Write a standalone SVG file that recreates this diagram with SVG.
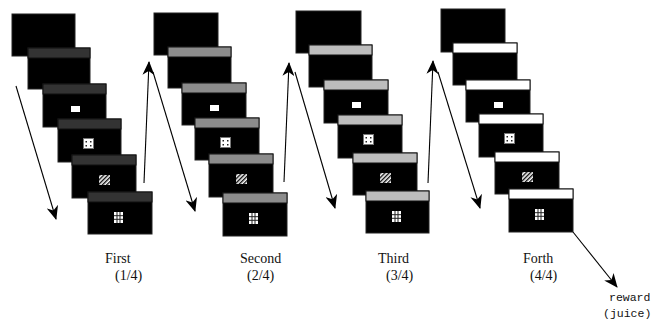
<svg xmlns="http://www.w3.org/2000/svg" width="665" height="320" viewBox="0 0 665 320">
  <defs>
    <style>
      .scr{fill:#000;stroke:#222;stroke-width:1}
      .bar{stroke:#111;stroke-width:1}
      .b1{fill:#333}
      .b2{fill:#8c8c8c}
      .b3{fill:#bdbdbd}
      .b4{fill:#fff}
      .arr{fill:none;stroke:#000;stroke-width:1.1;marker-end:url(#head)}
      .lbl{font-family:"Liberation Serif","Times New Roman",serif;font-size:14px;fill:#111}
      .mono{font-family:"Liberation Mono","DejaVu Sans Mono",monospace;font-size:11.5px;fill:#111}
    </style>
    <marker id="head" viewBox="0 0 14 12" refX="13" refY="6" markerWidth="14" markerHeight="12" markerUnits="userSpaceOnUse" orient="auto">
      <path d="M0,0 L14,6 L0,12 L4,6 z" fill="#000"/>
    </marker>
    <pattern id="hatch" width="3" height="3" patternUnits="userSpaceOnUse" patternTransform="rotate(45)">
      <rect width="3" height="3" fill="#fff"/>
      <rect width="1.4" height="3" fill="#111"/>
    </pattern>
    <!-- stimulus icons, placed relative to a screen's top-left corner -->
    <g id="cue">
      <rect x="28" y="22" width="9" height="6" fill="#fff"/>
    </g>
    <g id="dots">
      <rect x="25.5" y="19.5" width="10" height="10" fill="#fff" stroke="#777" stroke-width="1"/>
      <rect x="27.5" y="22" width="1.5" height="1.5" fill="#222"/>
      <rect x="32" y="22" width="1.5" height="1.5" fill="#222"/>
      <rect x="27.5" y="26" width="1.5" height="1.5" fill="#222"/>
      <rect x="32" y="26" width="1.5" height="1.5" fill="#222"/>
    </g>
    <g id="stripes">
      <rect x="27" y="20" width="11" height="10" fill="url(#hatch)"/>
    </g>
    <g id="grid">
      <rect x="26" y="20" width="9" height="11" fill="#fff"/>
      <path d="M29,20 V31 M32,20 V31 M26,23.7 H35 M26,27.3 H35" stroke="#222" stroke-width="1"/>
    </g>
  </defs>
  <rect width="665" height="320" fill="#fff"/>

  <!-- trial 1: dark header bars -->
  <g id="trial1">
    <g id="t1s0"><rect class="scr" x="12" y="14" width="63" height="42"/></g>
    <g id="t1s1"><rect class="scr" x="28" y="48" width="62" height="41"/><rect class="bar b1" x="28" y="48" width="62" height="10"/></g>
    <g id="t1s2" transform="translate(43,84)"><rect class="scr" width="63" height="43"/><rect class="bar b1" width="63" height="10"/><use href="#cue"/></g>
    <g id="t1s3" transform="translate(58,119)"><rect class="scr" width="63" height="43"/><rect class="bar b1" width="63" height="10"/><use href="#dots"/></g>
    <g id="t1s4" transform="translate(72,155)"><rect class="scr" width="64" height="43"/><rect class="bar b1" width="64" height="10"/><use href="#stripes"/></g>
    <g id="t1s5" transform="translate(88,192)"><rect class="scr" width="64" height="42"/><rect class="bar b1" width="64" height="10"/><use href="#grid"/></g>
  </g>

  <!-- trial 2: mid-grey header bars -->
  <g id="trial2">
    <g id="t2s0"><rect class="scr" x="154" y="13" width="64" height="42"/></g>
    <g id="t2s1"><rect class="scr" x="168" y="47" width="63" height="41"/><rect class="bar b2" x="168" y="47" width="63" height="10"/></g>
    <g id="t2s2" transform="translate(182,83)"><rect class="scr" width="64" height="42"/><rect class="bar b2" width="64" height="10"/><use href="#cue"/></g>
    <g id="t2s3" transform="translate(195,118)"><rect class="scr" width="64" height="42"/><rect class="bar b2" width="64" height="10"/><use href="#dots"/></g>
    <g id="t2s4" transform="translate(209,154)"><rect class="scr" width="64" height="43"/><rect class="bar b2" width="64" height="10"/><use href="#stripes"/></g>
    <g id="t2s5" transform="translate(223,193)"><rect class="scr" width="64" height="43"/><rect class="bar b2" width="64" height="10"/><use href="#grid"/></g>
  </g>

  <!-- trial 3: light-grey header bars -->
  <g id="trial3">
    <g id="t3s0"><rect class="scr" x="296" y="11" width="65" height="42"/></g>
    <g id="t3s1"><rect class="scr" x="309" y="45" width="63" height="42"/><rect class="bar b3" x="309" y="45" width="63" height="10"/></g>
    <g id="t3s2" transform="translate(324,80)"><rect class="scr" width="64" height="43"/><rect class="bar b3" width="64" height="10"/><use href="#cue"/></g>
    <g id="t3s3" transform="translate(338,115)"><rect class="scr" width="64" height="43"/><rect class="bar b3" width="64" height="10"/><use href="#dots"/></g>
    <g id="t3s4" transform="translate(353,153)"><rect class="scr" width="64" height="42"/><rect class="bar b3" width="64" height="10"/><use href="#stripes"/></g>
    <g id="t3s5" transform="translate(366,191)"><rect class="scr" width="63" height="42"/><rect class="bar b3" width="63" height="10"/><use href="#grid"/></g>
  </g>

  <!-- trial 4: white header bars -->
  <g id="trial4">
    <g id="t4s0"><rect class="scr" x="441" y="9" width="64" height="43"/></g>
    <g id="t4s1"><rect class="scr" x="453" y="43" width="64" height="42"/><rect class="bar b4" x="453" y="43" width="64" height="10"/></g>
    <g id="t4s2" transform="translate(466,80)"><rect class="scr" width="64" height="42"/><rect class="bar b4" width="64" height="10"/><use href="#cue"/></g>
    <g id="t4s3" transform="translate(479,114)"><rect class="scr" width="64" height="43"/><rect class="bar b4" width="64" height="10"/><use href="#dots"/></g>
    <g id="t4s4" transform="translate(495,152)"><rect class="scr" width="64" height="42"/><rect class="bar b4" width="64" height="10"/><use href="#stripes"/></g>
    <g id="t4s5" transform="translate(509,189)"><rect class="scr" width="64" height="43"/><rect class="bar b4" width="64" height="10"/><use href="#grid"/></g>
  </g>

  <!-- sequence arrows -->
  <g id="connectors">
    <line class="arr" x1="16" y1="86" x2="56" y2="219"/>
    <line class="arr" x1="144" y1="183" x2="149" y2="62"/>
    <line class="arr" x1="153" y1="72" x2="195" y2="211"/>
    <line class="arr" x1="284" y1="182" x2="289" y2="63"/>
    <line class="arr" x1="295" y1="72" x2="335" y2="208"/>
    <line class="arr" x1="428" y1="183" x2="433" y2="61"/>
    <line class="arr" x1="438" y1="72" x2="480" y2="208"/>
    <line class="arr" x1="573" y1="232" x2="617" y2="287"/>
  </g>

  <!-- trial labels -->
  <g id="labels">
    <text class="lbl" x="105" y="263">First</text>
    <text class="lbl" x="115" y="280">(1/4)</text>
    <text class="lbl" x="240" y="263">Second</text>
    <text class="lbl" x="247" y="280">(2/4)</text>
    <text class="lbl" x="378" y="263">Third</text>
    <text class="lbl" x="386" y="280">(3/4)</text>
    <text class="lbl" x="523" y="263">Forth</text>
    <text class="lbl" x="530" y="280">(4/4)</text>
    <text class="mono" x="609" y="301">reward</text>
    <text class="mono" x="603" y="317">(juice)</text>
  </g>
</svg>
